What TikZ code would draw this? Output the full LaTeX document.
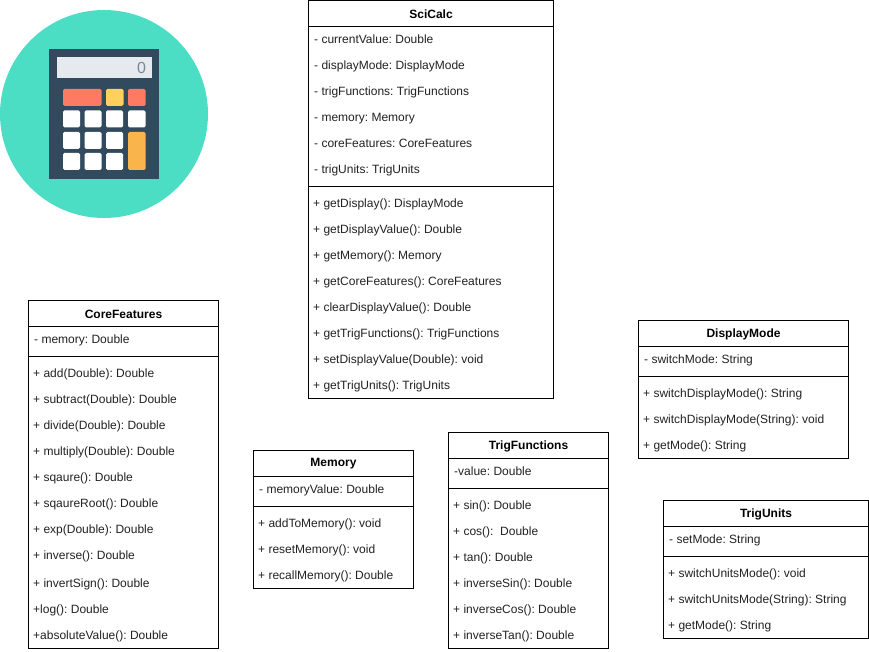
\documentclass[tikz,border=0pt]{standalone}
\usepackage{fontspec}
\setmainfont{Liberation Sans}
\frenchspacing
\definecolor{teal1}{HTML}{4CDDC5}
\definecolor{navy1}{HTML}{324A5E}
\definecolor{screen1}{HTML}{E6E9EE}
\definecolor{red1}{HTML}{FF7A62}
\definecolor{yellow1}{HTML}{FFD05B}
\definecolor{orange1}{HTML}{F9B54C}
\definecolor{txt}{HTML}{222222}
\tikzset{
  x=1pt,y=-1pt,
  classbox/.style={draw=black,line width=0.9pt,fill=white},
  divider/.style={draw=black,line width=0.9pt},
  title/.style={font=\fontsize{12}{14}\selectfont\bfseries,text=black,inner sep=0pt,anchor=center,yshift=-0.6pt},
  member/.style={font=\fontsize{12}{14}\selectfont,text=txt,inner sep=0pt,anchor=mid west,yshift=-1.6pt},
  key/.style={fill=white,rounded corners=1.5pt},
  zero/.style={font=\fontsize{16}{16}\selectfont,text=navy1!65,inner sep=0pt}
}
\newcommand{\classframe}[7]{% name, x0,y0,x1,y1, header y, sep y
  \path[classbox] (#2,#3) rectangle (#4,#5);
  \draw[divider] (#2,#6) -- (#4,#6);
  \draw[divider] (#2,#7) -- (#4,#7);
  \node[title] (#1) at ({(#2+#4)/2},{#3+13}) {#1};
}
\begin{document}
\begin{tikzpicture}
\useasboundingbox (0,0) rectangle (869,652);
% icon
\fill[teal1] (104,114) circle (104);
\fill[navy1] (49,49) rectangle (159,179);
\fill[screen1] (56.5,57.5) rectangle (151.5,78.5);
\node[zero] (zeroglyph) at (141.5,67.5) {0};
\fill[red1,rounded corners=1.5pt] (63,89) rectangle (101.5,106);
\fill[yellow1,rounded corners=1.5pt] (106,89) rectangle (123.5,106);
\fill[red1,rounded corners=1.5pt] (128,89) rectangle (145.5,106);
\foreach \x in {63,84.5,106}{
  \foreach \y in {110.5,132,153}{
    \fill[key] (\x,\y) rectangle (\x+17,\y+17);
  }
}
\fill[key] (128,110.5) rectangle (145.5,127.5);
\fill[orange1,rounded corners=1.5pt] (128,132) rectangle (145.5,170);
% SciCalc
\classframe{SciCalc}{308.5}{0.5}{553.5}{398.5}{26.5}{186.5}
\node[member] (s1) at (314,39.5) {- currentValue: Double};
\node[member] (s2) at (314,65.5) {- displayMode: DisplayMode};
\node[member] (s3) at (314,91.5) {- trigFunctions: TrigFunctions};
\node[member] (s4) at (314,117.5) {- memory: Memory};
\node[member] (s5) at (314,143.5) {- coreFeatures: CoreFeatures};
\node[member] (s6) at (314,169.5) {- trigUnits: TrigUnits};
\node[member] (s7) at (313,203.5) {+ getDisplay(): DisplayMode};
\node[member] (s8) at (313,229.5) {+ getDisplayValue(): Double};
\node[member] (s9) at (313,255.5) {+ getMemory(): Memory};
\node[member] (s10) at (313,281.5) {+ getCoreFeatures(): CoreFeatures};
\node[member] (s11) at (313,307.5) {+ clearDisplayValue(): Double};
\node[member] (s12) at (313,333.5) {+ getTrigFunctions(): TrigFunctions};
\node[member] (s13) at (313,359.5) {+ setDisplayValue(Double): void};
\node[member] (s14) at (313,385.5) {+ getTrigUnits(): TrigUnits};
% CoreFeatures
\classframe{CoreFeatures}{28.5}{300.5}{218.5}{648.5}{326.5}{356.5}
\node[member] (c1) at (34,339.5) {- memory: Double};
\node[member] (c2) at (33,373.5) {+ add(Double): Double};
\node[member] (c3) at (33,399.5) {+ subtract(Double): Double};
\node[member] (c4) at (33,425.5) {+ divide(Double): Double};
\node[member] (c5) at (33,451.5) {+ multiply(Double): Double};
\node[member] (c6) at (33,477.5) {+ sqaure(): Double};
\node[member] (c7) at (33,503.5) {+ sqaureRoot(): Double};
\node[member] (c8) at (33,529.5) {+ exp(Double): Double};
\node[member] (c9) at (33,555.5) {+ inverse(): Double};
\node[member] (c10) at (33,583.5) {+ invertSign(): Double};
\node[member] (c11) at (33,609.5) {+log(): Double};
\node[member] (c12) at (33,635.5) {+absoluteValue(): Double};
% Memory
\classframe{Memory}{253.5}{450.5}{413.5}{588.5}{476.5}{506.5}
\node[member] (m1) at (259,489.5) {- memoryValue: Double};
\node[member] (m2) at (258,523.5) {+ addToMemory(): void};
\node[member] (m3) at (258,549.5) {+ resetMemory(): void};
\node[member] (m4) at (258,575.5) {+ recallMemory(): Double};
% TrigFunctions
\classframe{TrigFunctions}{448.5}{432.5}{608.5}{648.5}{458.5}{488.5}
\node[member] (t1) at (454,471.5) {-value: Double};
\node[member] (t2) at (453,505.5) {+ sin(): Double};
\node[member] (t3) at (453,531.5) {+ cos():\ \ Double};
\node[member] (t4) at (453,557.5) {+ tan(): Double};
\node[member] (t5) at (453,583.5) {+ inverseSin(): Double};
\node[member] (t6) at (453,609.5) {+ inverseCos(): Double};
\node[member] (t7) at (453,635.5) {+ inverseTan(): Double};
% DisplayMode
\classframe{DisplayMode}{638.5}{320.5}{848.5}{458.5}{346.5}{376.5}
\node[member] (d1) at (644,359.5) {- switchMode: String};
\node[member] (d2) at (643,393.5) {+ switchDisplayMode(): String};
\node[member] (d3) at (643,419.5) {+ switchDisplayMode(String): void};
\node[member] (d4) at (643,445.5) {+ getMode(): String};
% TrigUnits
\classframe{TrigUnits}{663.5}{500.5}{868.5}{638.5}{526.5}{556.5}
\node[member] (u1) at (669,539.5) {- setMode: String};
\node[member] (u2) at (668,573.5) {+ switchUnitsMode(): void};
\node[member] (u3) at (668,599.5) {+ switchUnitsMode(String): String};
\node[member] (u4) at (668,625.5) {+ getMode(): String};
\end{tikzpicture}
\end{document}
